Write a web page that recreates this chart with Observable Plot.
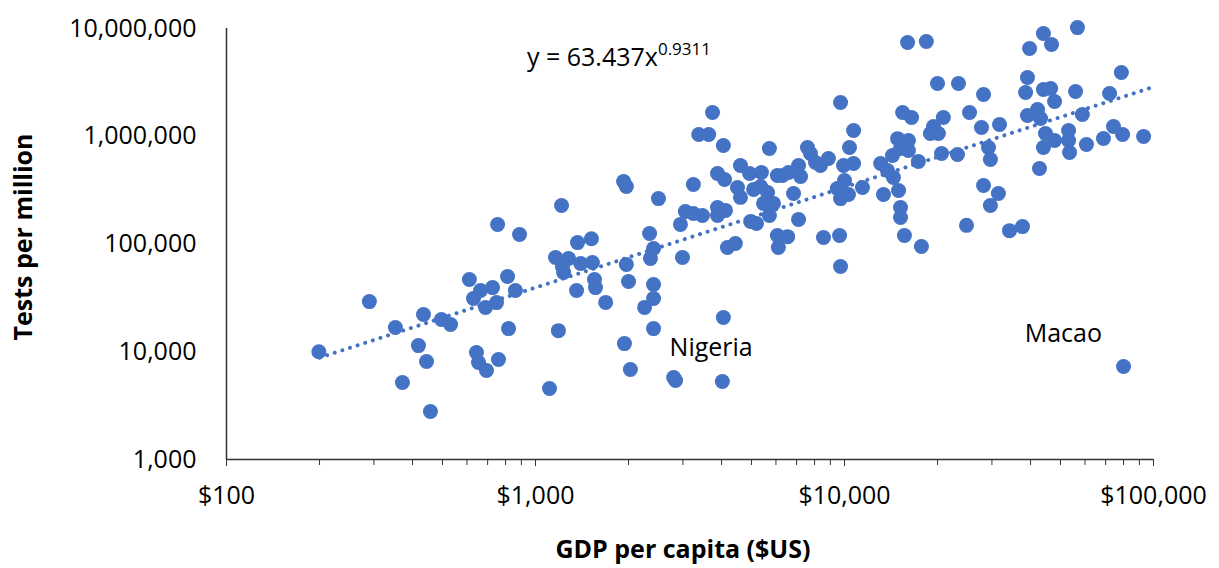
<!DOCTYPE html>
<html><head><meta charset="utf-8">
<script src="https://cdn.jsdelivr.net/npm/d3@7"></script>
<script src="https://cdn.jsdelivr.net/npm/@observablehq/plot@0.6"></script>
<style>body{margin:0;background:#fff;} svg{display:block}</style>
</head><body><div id="chart"></div>
<script>
// GDP per capita ($US) and tests per million
const gdp = [199,290,352,371,418,434,444,457,496,531,611,630,644,654,664,689,694,726,748,754,759,812,818,861,888,
1214,1928,1968,2500,3243,3882,4090,4605,4930,5385,6065,4505,4605,5080,5350,5635,5470,5890,5715,3055,2945,3243,3470,3882,3882,4120,4970,5190,6065,6110,4180,4435,2990,2340,2410,2355,1968,2000,2410,2410,2254,1687,1368,1517,1161,1279,1222,1233,1400,1528,1552,1564,1358,1186,1940,2410,4055,2028,2800,2840,4025,1110,
3740,3375,3635,4055,5715,9710,10700,10380,6545,8550,9640,9710,7100,6840,6300,6590,7100,7210,7590,7760,8060,8360,8870,9930,10700,10000,9480,9710,10300,11430,13370,13090,13770,14300,14400,14860,14960,15180,15180,15630,15420,
16480,20890,19410,20130,18970,25390,27750,31750,39100,42150,43100,58850,16100,15180,16100,17340,20610,23210,29240,29660,44700,44030,47840,53110,53110,53500,60670,68880,74240,79430,92900,42760,17740,24820,28180,31480,29660,34200,37670,80000,16000,18400,44030,46770,39720,56750,78700,20000,23380,28180,39100,38550,44030,46460,47840,55950,72080];
const tests = [10000,29200,16800,5190,11400,22200,8130,2790,19900,17900,46900,31200,9840,7940,37000,25800,6700,39400,28600,151700,8470,49900,16400,37000,122500,
227500,380000,342000,264000,357000,451000,397000,535000,451000,461000,432000,334000,271000,321000,342000,301000,238000,238000,184000,200000,152000,192000,184000,218000,184000,205000,162000,155000,120000,92900,92900,101000,75000,125000,90800,73300,64500,44900,42100,31200,25800,28700,103000,112000,75000,73300,61800,54400,65900,67300,46900,39400,37000,15700,11900,16400,20800,6840,5770,5410,5300,4560,
1660000,1038000,1038000,821000,769000,2056000,1130000,787000,117000,115000,120000,61800,169000,294000,432000,461000,535000,423000,787000,692000,570000,535000,621000,535000,558000,388000,327000,264000,288000,334000,288000,558000,481000,662000,414000,950000,314000,218000,176000,120000,1660000,
1493000,1493000,1230000,1062000,1062000,1660000,1205000,1285000,1560000,1770000,1462000,1592000,914000,769000,738000,583000,692000,678000,787000,609000,1062000,787000,914000,1130000,914000,706000,838000,953000,1230000,1038000,995000,502000,94800,149000,349000,294000,227500,133000,145000,7290,7410000,7570000,8990000,7110000,6520000,10200000,3910000,3090000,3090000,2440000,3510000,2550000,2717000,2773000,2104000,2600000,2493000];

const xTicks = [100, 1000, 10000, 100000];
const xTickLabels = ["$100", "$1,000", "$10,000", "$100,000"];
const xMinorTicks = [200,300,400,500,600,700,800,900,2000,3000,4000,5000,6000,7000,8000,9000,20000,30000,40000,50000,60000,70000,80000,90000];
const yTicks = [1000, 10000, 100000, 1000000, 10000000];
const yTickLabels = ["1,000", "10,000", "100,000", "1,000,000", "10,000,000"];

// Power trend line y = a * x^b
const trendCoef = 63.437;
const trendExp = 0.9311;
const trendX = [200, 100000];
const equationText = "y = 63.437x";
const equationExpText = "0.9311";
const equationPos = [942, 4440000];

const annotNames = ["Nigeria", "Macao"];
const annotX = [2716, 38300];
const annotY = [10940, 14750];

const xTitle = "GDP per capita ($US)";
const yTitle = "Tests per million";

const points = gdp.map((g, i) => ({gdp: g, tests: tests[i]}));
const trend = trendX.map(x => ({x, y: trendCoef * Math.pow(x, trendExp)}));
const annots = annotNames.map((n, i) => ({name: n, x: annotX[i], y: annotY[i]}));

const blue = "#4472C4";
const font = "'Open Sans', sans-serif";

const chart = Plot.plot({
  width: 1219,
  height: 568,
  marginLeft: 226,
  marginRight: 66,
  marginTop: 28,
  marginBottom: 109,
  style: {fontFamily: font, fontSize: "25px", color: "#000", background: "#fff"},
  x: {type: "log", domain: [100, 100000], label: null},
  y: {type: "log", domain: [1000, 10000000], label: null},
  marks: [
    Plot.axisX(xMinorTicks, {tickSize: 6, tickFormat: () => "", stroke: "#333", label: null}),
    Plot.axisX(xTicks, {tickSize: 7, tickPadding: 20, stroke: "#333", tickFormat: d => xTickLabels[xTicks.indexOf(d)], label: null}),
    Plot.axisY(yTicks, {tickSize: 0, tickPadding: 30, tickFormat: d => yTickLabels[yTicks.indexOf(d)], label: null}),
    Plot.ruleY([1000], {stroke: "#333", strokeWidth: 1.5}),
    Plot.ruleX([100], {stroke: "#333", strokeWidth: 1.5}),
    Plot.dot(points, {x: "gdp", y: "tests", r: 7.5, fill: blue}),
    Plot.line(trend, {x: "x", y: "y", stroke: blue, strokeWidth: 4, strokeDasharray: "0.01 7.99", strokeLinecap: "round"}),
    Plot.text(annots, {x: "x", y: "y", text: "name", textAnchor: "start", fill: "#000", fontSize: 25})
  ]
});

document.getElementById("chart").appendChild(chart);

const svg = d3.select(chart);
const sx = chart.scale("x"), sy = chart.scale("y");

const eq = svg.append("text")
  .attr("x", sx.apply(equationPos[0]))
  .attr("y", sy.apply(equationPos[1]))
  .attr("text-anchor", "start")
  .attr("font-family", font)
  .attr("font-size", 25)
  .attr("fill", "#000");
eq.append("tspan").text(equationText);
eq.append("tspan").attr("font-size", 17).attr("dy", -11).text(equationExpText);

svg.append("text")
  .attr("transform", "translate(25,237) rotate(-90)")
  .attr("text-anchor", "middle")
  .attr("dominant-baseline", "middle")
  .attr("font-family", font)
  .attr("font-weight", "bold")
  .attr("font-size", 25)
  .attr("fill", "#000")
  .text(yTitle);

svg.append("text")
  .attr("x", 683)
  .attr("y", 551)
  .attr("text-anchor", "middle")
  .attr("dominant-baseline", "middle")
  .attr("font-family", font)
  .attr("font-weight", "bold")
  .attr("font-size", 25)
  .attr("fill", "#000")
  .text(xTitle);
</script>
</body></html>
